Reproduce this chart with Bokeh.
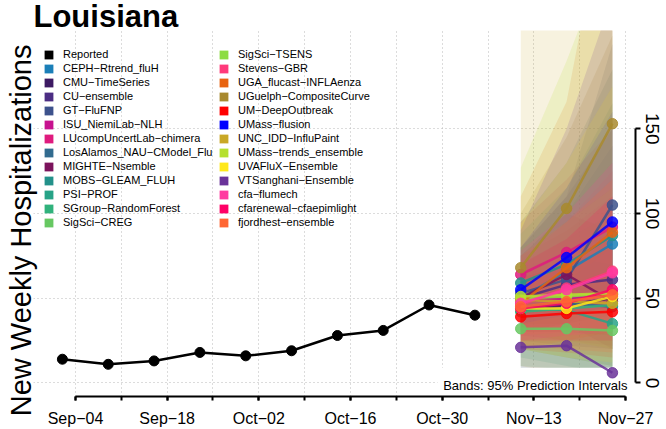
import pandas as pd
from bokeh.plotting import figure
from bokeh.models import Range1d, FixedTicker, Label, Legend, LegendItem, Title
from bokeh.embed import file_html
from bokeh.resources import INLINE

# ---------------- data ----------------
title_text = "Louisiana"
y_label = "New Weekly Hospitalizations"
band_note = "Bands: 95% Prediction Intervals"

origin = "2023-09-04"
reported_dates = ["2023-09-02", "2023-09-09", "2023-09-16", "2023-09-23", "2023-09-30",
                  "2023-10-07", "2023-10-14", "2023-10-21", "2023-10-28", "2023-11-04"]
reported_values = [14, 11, 13, 18, 16, 19, 28, 31, 46, 40]

forecast_dates = ["2023-11-11", "2023-11-18", "2023-11-25"]

tick_dates = ["2023-09-04", "2023-09-11", "2023-09-18", "2023-09-25", "2023-10-02",
              "2023-10-09", "2023-10-16", "2023-10-23", "2023-10-30", "2023-11-06",
              "2023-11-13", "2023-11-20", "2023-11-27"]
tick_labels = ["Sep−04", "", "Sep−18", "", "Oct−02", "", "Oct−16", "", "Oct−30", "",
               "Nov−13", "", "Nov−27"]
y_ticks = [0, 50, 100, 150]

model_names = ["CEPH−Rtrend_fluH", "CMU−TimeSeries", "CU−ensemble", "GT−FluFNP",
               "ISU_NiemiLab−NLH", "LUcompUncertLab−chimera", "LosAlamos_NAU−CModel_Flu",
               "MIGHTE−Nsemble", "MOBS−GLEAM_FLUH", "PSI−PROF", "SGroup−RandomForest",
               "SigSci−CREG", "SigSci−TSENS", "Stevens−GBR", "UGA_flucast−INFLAenza",
               "UGuelph−CompositeCurve", "UM−DeepOutbreak", "UMass−flusion",
               "UNC_IDD−InfluPaint", "UMass−trends_ensemble", "UVAFluX−Ensemble",
               "VTSanghani−Ensemble", "cfa−flumech", "cfarenewal−cfaepimlight",
               "fjordhest−ensemble"]
model_colors = ["#1b7fb8", "#3d1a63", "#4b2d83", "#3d528c", "#c7128f", "#df1b7e", "#326b8f",
                "#7b135c", "#23918a", "#27a387", "#30b27c", "#67c862", "#8ddc42", "#ff3a7a",
                "#e86310", "#a8892e", "#ff0000", "#0000ff", "#c9a826", "#b5e02e", "#ffe81a",
                "#6a3399", "#ff3aa0", "#ff0066", "#ff6633"]
model_medians = [[50, 66, 82], [43, 46, 50], [50, 58, 61], [53, 61, 105], [48, 50, 52],
                 [64, 77, 92], [45, 47, 45], [50, 64, 48], [59, 70, 87], [44, 43, 35],
                 [42, 44, 46], [32, 32, 31], [50, 51, 53], [46, 56, 66], [47, 68, 89],
                 [68, 103, 153], [39, 41, 42], [55, 74, 95], [49, 48, 47], [51, 52, 53],
                 [44, 44, 51], [21, 22, 6], [47, 55, 65], [44, 47, 55], [45, 48, 52]]
model_lower95 = [[30, 35, 40], [25, 22, 20], [30, 30, 28], [35, 35, 50], [28, 25, 22],
                 [40, 45, 50], [20, 15, 10], [30, 35, 20], [40, 45, 50], [15, 10, 5],
                 [10, 8, 5], [5, 2, 0], [30, 25, 20], [28, 30, 32], [20, 25, 30],
                 [45, 60, 80], [20, 18, 15], [35, 40, 45], [10, 5, 2], [20, 15, 10],
                 [20, 15, 12], [5, 3, 0], [25, 28, 30], [25, 25, 25], [22, 20, 18]]
model_upper95 = [[75, 100, 140], [65, 75, 90], [80, 110, 150], [80, 110, 200], [75, 90, 110],
                 [95, 120, 150], [95, 130, 185], [75, 100, 90], [88, 115, 165], [68, 75, 70],
                 [70, 85, 100], [60, 70, 80], [80, 95, 115], [72, 95, 125], [110, 166, 306],
                 [100, 145, 205], [62, 70, 80], [80, 115, 160], [240, 340, 460], [127, 190, 260],
                 [94, 130, 175], [90, 150, 228], [78, 100, 130], [70, 85, 110], [75, 95, 120]]

# ---------------- helpers ----------------
t0 = pd.Timestamp(origin)
def days(ds):
    return [(pd.Timestamp(d) - t0).days for d in ds]

rx = days(reported_dates)
fx = days(forecast_dates)
tx = days(tick_dates)
major_x = [t for t, l in zip(tx, tick_labels) if l]
overrides = {t: l for t, l in zip(tx, tick_labels) if l}

FONT = "Liberation Sans"

p = figure(width=666, height=429, output_backend="svg", toolbar_location=None,
           x_range=Range1d(-6.414, 85.527), y_range=Range1d(-8, 208),
           y_axis_location="right",
           min_border_left=33, min_border_top=28, min_border_right=31, min_border_bottom=32)
p.outline_line_color = None
p.background_fill_color = "white"
p.border_fill_color = "white"

# title
p.title.text = title_text
p.title.text_font = FONT
p.title.text_font_size = "31px"
p.title.text_font_style = "bold"
p.title.text_color = "black"
p.title.align = "left"
p.title.standoff = -7
p.title.offset = 0

# y label as a side title on the left
p.add_layout(Title(text=y_label, align="right", offset=14, standoff=-6,
                   text_font=FONT, text_font_size="29px", text_font_style="normal",
                   text_color="black"), "left")

# axes
xa = p.xaxis[0]
xa.ticker = FixedTicker(ticks=major_x, minor_ticks=tx)
xa.major_label_overrides = overrides
xa.bounds = (tx[0], tx[-1])
ya = p.yaxis[0]
ya.ticker = FixedTicker(ticks=y_ticks, minor_ticks=[])
ya.bounds = (y_ticks[0], y_ticks[-1])
ya.major_label_orientation = "parallel"
for ax, fs in ((xa, "16px"), (ya, "19px")):
    ax.axis_line_width = 2
    ax.axis_line_color = "black"
    ax.major_tick_line_width = 2
    ax.minor_tick_line_width = 2
    ax.major_tick_line_color = "black"
    ax.minor_tick_line_color = "black"
    ax.major_tick_in = 0
    ax.minor_tick_in = 0
    ax.major_label_text_font = FONT
    ax.major_label_text_font_size = fs
    ax.major_label_text_color = "black"
xa.major_tick_out = 4
xa.minor_tick_out = 4
xa.major_label_standoff = 9
ya.major_tick_out = 5
ya.major_label_standoff = 5

# grids
p.xgrid[0].ticker = FixedTicker(ticks=tx)
p.ygrid[0].ticker = FixedTicker(ticks=y_ticks)
for g in (p.xgrid[0], p.ygrid[0]):
    g.grid_line_color = "#b8b8b8"
    g.grid_line_dash = "1 3"
    g.grid_line_width = 1

# bands
for c, lo, hi in zip(model_colors, model_lower95, model_upper95):
    p.varea(x=fx, y1=lo, y2=hi, fill_color=c, fill_alpha=0.15)

# note box + text
p.quad(left=[55.3], right=[85.527], bottom=[-8], top=[9], fill_color="white", line_color=None)
p.add_layout(Label(x=84.3, y=-1.6, text=band_note, text_align="right",
                   text_baseline="alphabetic", text_font=FONT, text_font_size="13px",
                   text_color="black"))

# forecasts
for c, m in zip(model_colors, model_medians):
    p.line(fx, m, line_color=c, line_width=2.5, line_alpha=0.85)
    p.scatter(fx, m, size=10.5, fill_color=c, line_color=c, fill_alpha=0.85, line_alpha=0.85)

# reported
p.line(rx, reported_values, line_color="black", line_width=2.5)
p.scatter(rx, reported_values, size=10, fill_color="black", line_color="black")

# legend (two columns); zero-area quads on the series data supply the square keys
leg_names = ["Reported"] + model_names
leg_colors = ["black"] + model_colors
leg_x = [rx] + [fx] * len(model_names)
leg_y = [reported_values] + model_medians
items = []
for n, c, xs, ys in zip(leg_names, leg_colors, leg_x, leg_y):
    r = p.quad(left=xs, right=xs, top=ys, bottom=ys, fill_color=c, line_color=None)
    items.append(LegendItem(label=n, renderers=[r]))

for its, xloc in ((items[:13], 10), (items[13:], 185)):
    lg = Legend(items=its, location=(xloc, 167), orientation="vertical",
                glyph_width=11, glyph_height=11, label_standoff=9, label_height=14,
                spacing=0, padding=0, margin=0, border_line_alpha=0,
                background_fill_alpha=0, label_text_font=FONT,
                label_text_font_size="11px", label_text_color="black")
    p.add_layout(lg)

open("out.html", "w").write(file_html(p, INLINE))
